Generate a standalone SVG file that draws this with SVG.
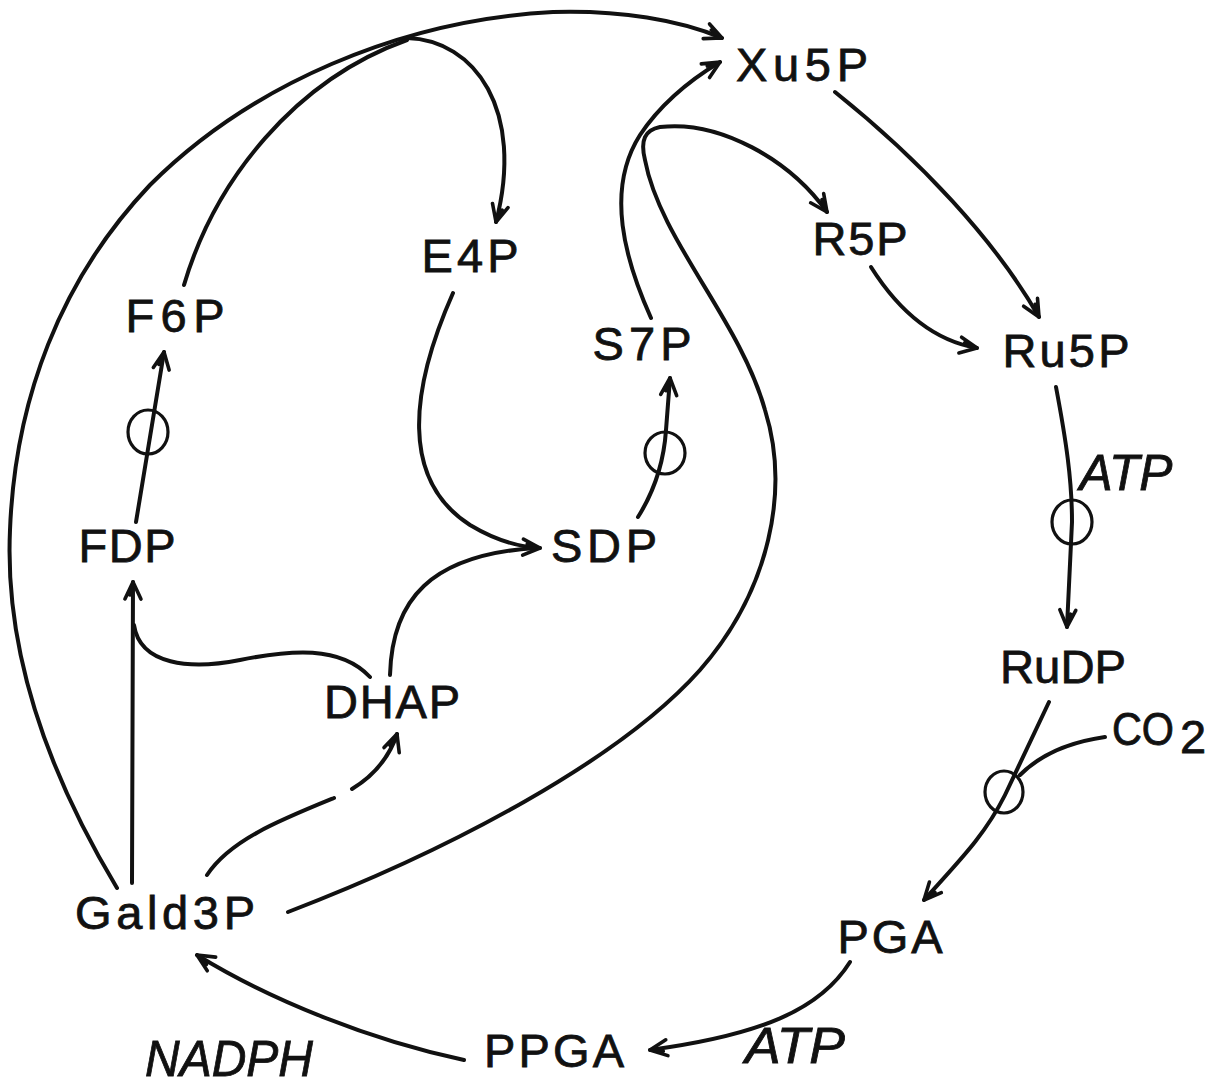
<svg xmlns="http://www.w3.org/2000/svg" width="1222" height="1088" viewBox="0 0 1222 1088">
<style>
.lbl{font-family:"Liberation Sans",Arial,sans-serif;font-size:47px;fill:#111;stroke:#111;stroke-width:0.8;text-anchor:middle}
.it{font-style:italic;font-size:50px}
.c{fill:none;stroke:#111;stroke-width:4;stroke-linecap:round}
.e{fill:none;stroke:#111;stroke-width:3.2}
</style>
<defs>
<marker id="ah" markerUnits="userSpaceOnUse" markerWidth="40" markerHeight="40" refX="0" refY="0" viewBox="-20 -20 40 40" orient="auto">
<path d="M -17 -8 L 0 0 L -17 8 M -13 -3 L 0 0" fill="none" stroke="#111" stroke-width="3.6" stroke-linecap="round" stroke-linejoin="round"/>
</marker>
</defs>
<rect width="1222" height="1088" fill="#fff"/>
<g id="connectors">
<path class="c" d="M 117 888 C 40 760 5 640 10 530 C 15 400 60 280 150 185 C 250 85 400 20 553 12 C 620 10 680 20 722 38" marker-end="url(#ah)"/>
<path class="c" d="M 184 285 C 215 180 295 80 407 40"/>
<path class="c" d="M 407 38 C 475 40 525 110 496 222" marker-end="url(#ah)"/>
<path class="c" d="M 453 293 C 410 390 400 480 470 525 C 495 540 520 547 540 548" marker-end="url(#ah)"/>
<path class="c" d="M 390 675 C 392 600 430 555 535 548"/>
<path class="c" d="M 370 677 C 340 645 290 650 240 660 C 190 670 140 665 134 625"/>
<path class="c" d="M 132 883 L 133 582" marker-end="url(#ah)"/>
<path class="c" d="M 136 522 L 164 352" marker-end="url(#ah)"/>
<path class="c" d="M 207 875 C 230 840 280 820 334 798"/>
<path class="c" d="M 352 789 C 375 775 390 755 397 734" marker-end="url(#ah)"/>
<path class="c" d="M 288 912 C 450 850 620 760 700 670 C 770 590 790 490 765 410 C 740 320 660 240 645 160 C 640 140 645 130 660 127 C 720 120 790 160 827 212" marker-end="url(#ah)"/>
<path class="c" d="M 651 318 C 625 260 605 190 640 135 C 660 105 690 80 720 62" marker-end="url(#ah)"/>
<path class="c" d="M 835 92 C 920 160 995 240 1039 317" marker-end="url(#ah)"/>
<path class="c" d="M 871 267 C 895 305 930 340 977 348" marker-end="url(#ah)"/>
<path class="c" d="M 638 517 C 655 490 664 460 666 430 L 670 378" marker-end="url(#ah)"/>
<path class="c" d="M 1056 387 C 1066 440 1072 480 1072 522 L 1067 627" marker-end="url(#ah)"/>
<path class="c" d="M 1049 702 L 1005 795 C 985 835 960 860 924 900" marker-end="url(#ah)"/>
<path class="c" d="M 1105 737 C 1070 742 1040 755 1020 775"/>
<path class="c" d="M 850 962 C 820 1010 760 1035 650 1050" marker-end="url(#ah)"/>
<path class="c" d="M 464 1060 C 370 1040 270 1000 197 955" marker-end="url(#ah)"/>
<ellipse class="e" cx="148" cy="432" rx="20" ry="22"/>
<ellipse class="e" cx="665" cy="453" rx="20" ry="21"/>
<ellipse class="e" cx="1072" cy="522" rx="20" ry="22"/>
<ellipse class="e" cx="1004" cy="792" rx="19" ry="21"/>
</g>
<g id="Xu5P"><text class="lbl" x="802" y="81" textLength="132">Xu5P</text></g>
<g id="E4P"><text class="lbl" x="470" y="272" textLength="97">E4P</text></g>
<g id="R5P"><text class="lbl" x="860" y="255" textLength="95">R5P</text></g>
<g id="F6P"><text class="lbl" x="175" y="332" textLength="99">F6P</text></g>
<g id="S7P"><text class="lbl" x="642" y="360" textLength="99">S7P</text></g>
<g id="Ru5P"><text class="lbl" x="1066" y="367" textLength="127">Ru5P</text></g>
<g id="ATP1"><text class="lbl it" x="1126" y="490" textLength="93" lengthAdjust="spacingAndGlyphs">ATP</text></g>
<g id="FDP"><text class="lbl" x="127" y="562" textLength="97">FDP</text></g>
<g id="SDP"><text class="lbl" x="604" y="562" textLength="106">SDP</text></g>
<g id="RuDP"><text class="lbl" x="1063" y="683" textLength="126" lengthAdjust="spacingAndGlyphs">RuDP</text></g>
<g id="DHAP"><text class="lbl" x="392" y="718" textLength="136">DHAP</text></g>
<g id="CO2"><text class="lbl" x="1143" y="745" font-size="46" textLength="62" lengthAdjust="spacingAndGlyphs">CO</text><text class="lbl" x="1193" y="753" font-size="44">2</text></g>
<g id="Gald3P"><text class="lbl" x="165" y="929" textLength="180">Gald3P</text></g>
<g id="PGA"><text class="lbl" x="890" y="953" textLength="105">PGA</text></g>
<g id="PPGA"><text class="lbl" x="554" y="1067" textLength="140">PPGA</text></g>
<g id="ATP2"><text class="lbl it" x="795" y="1063" textLength="100" lengthAdjust="spacingAndGlyphs">ATP</text></g>
<g id="NADPH"><text class="lbl it" x="229" y="1076" textLength="168" lengthAdjust="spacingAndGlyphs">NADPH</text></g>
</svg>
